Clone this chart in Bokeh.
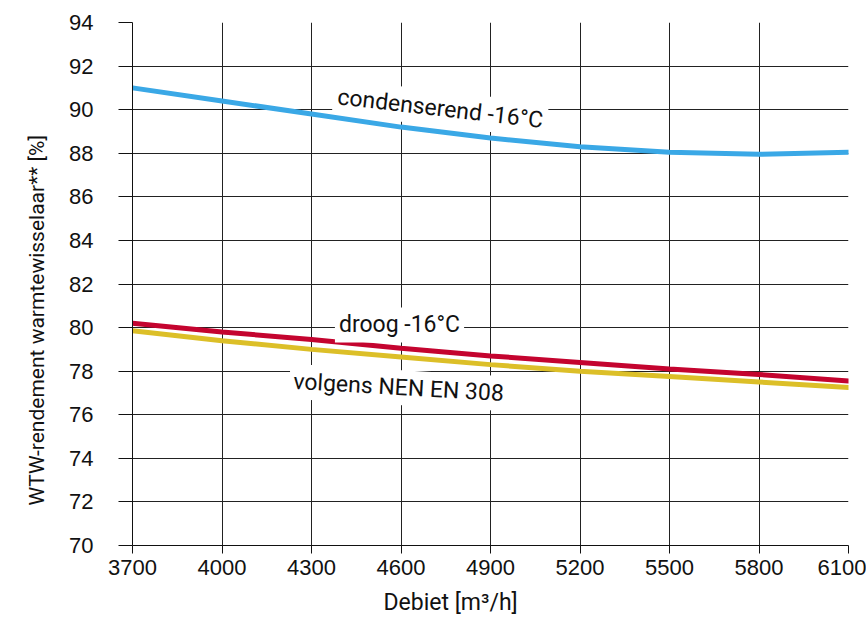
from bokeh.plotting import figure
from bokeh.models import Label, Title, FixedTicker, Range1d
from bokeh.embed import file_html
from bokeh.resources import INLINE

debiet = [3700, 4000, 4300, 4600, 4900, 5200, 5500, 5800, 6100]
condenserend = [91.0, 90.4, 89.8, 89.2, 88.7, 88.3, 88.05, 87.95, 88.05]
droog = [80.2, 79.8, 79.45, 79.05, 78.7, 78.4, 78.1, 77.85, 77.55]
nen_en_308 = [79.85, 79.4, 79.0, 78.65, 78.3, 78.0, 77.75, 77.5, 77.25]
x_ticks = [3700, 4000, 4300, 4600, 4900, 5200, 5500, 5800, 6100]
y_ticks = list(range(70, 95, 2))

p = figure(width=866, height=627, output_backend="svg", toolbar_location=None,
           x_range=Range1d(3700, 6100), y_range=Range1d(70, 94),
           min_border_left=132, min_border_right=18, min_border_top=22, min_border_bottom=82)
p.outline_line_color = None
p.background_fill_color = "white"
p.border_fill_color = "white"

for g in (p.xgrid[0], p.ygrid[0]):
    g.grid_line_color = "#222222"
    g.grid_line_width = 1
p.xaxis.ticker = FixedTicker(ticks=x_ticks)
p.yaxis.ticker = FixedTicker(ticks=y_ticks)

for ax in (p.xaxis[0], p.yaxis[0]):
    ax.axis_line_color = "#111111"
    ax.major_tick_line_color = "#111111"
    ax.minor_tick_line_color = None
    ax.major_tick_in = 0
    ax.major_label_text_font = "Liberation Sans"
    ax.major_label_text_font_size = "22px"
    ax.major_label_text_color = "#111111"
p.xaxis.major_tick_out = 8
p.xaxis.major_label_standoff = 6
p.yaxis.major_tick_out = 14
p.yaxis.major_label_standoff = 25

yt = Title(text="WTW-rendement warmtewisselaar** [%]", align="left", offset=40,
           text_font="Roboto", text_font_style="normal", text_font_size="21px",
           text_color="#111111", standoff=36)
p.add_layout(yt, "left")

xt = Title(text="Debiet [m³/h]", align="left", offset=251, text_font="Roboto",
           text_font_style="normal", text_font_size="23px", text_color="#111111",
           standoff=18)
p.add_layout(xt, "below")

p.line(debiet, condenserend, line_color="#3aa8e6", line_width=5, line_cap="round")
p.line(debiet, nen_en_308, line_color="#dcbf28", line_width=5, line_cap="round")
p.line(debiet, droog, line_color="#c4042f", line_width=5, line_cap="round")

common = dict(text_font="Roboto", text_font_size="23px", text_color="#111111",
              text_align="center", text_baseline="middle",
              background_fill_color="white", padding=4)
p.add_layout(Label(x=4732, y=90.05, text="condenserend -16°C", angle=-0.115, **common))
p.add_layout(Label(x=4595, y=80.12, text="droog -16°C", angle=0, **common))
p.add_layout(Label(x=4592, y=77.25, text="volgens NEN EN 308", angle=-0.058, **common))

open("out.html", "w").write(file_html(p, INLINE))
